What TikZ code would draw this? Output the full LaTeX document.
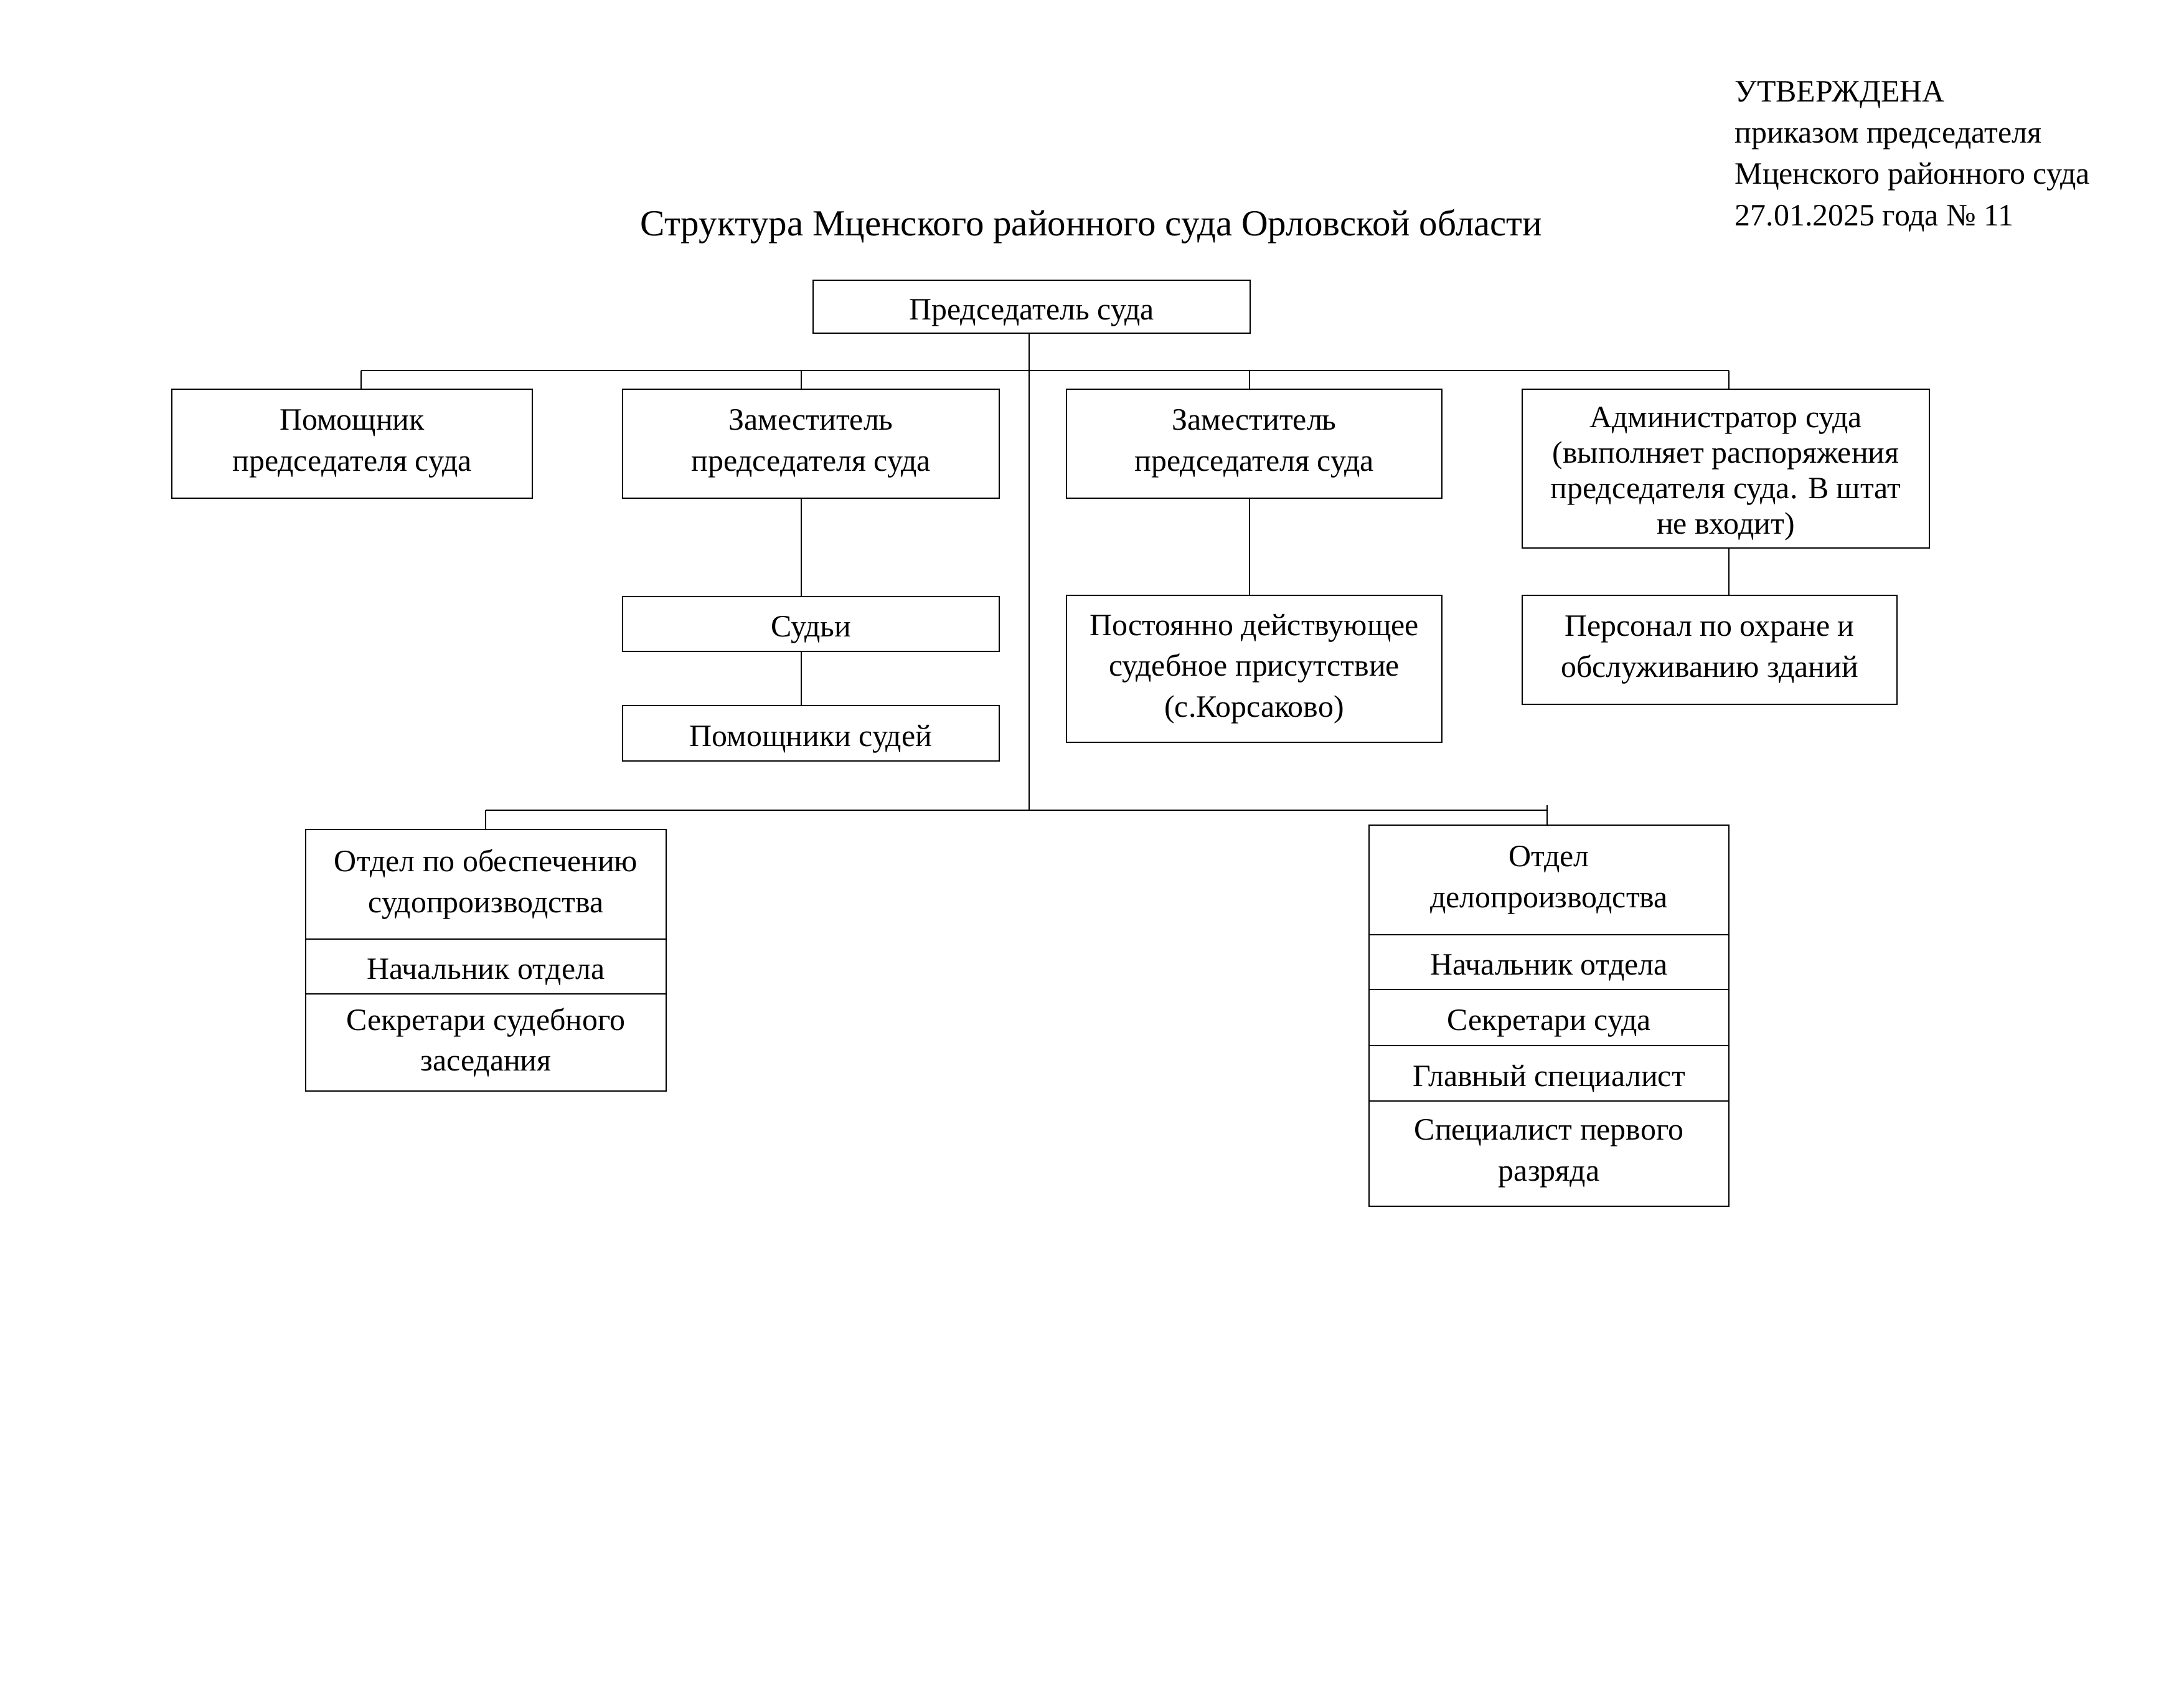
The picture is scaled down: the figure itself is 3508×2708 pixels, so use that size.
\documentclass[tikz,border=0pt]{standalone}
\usepackage{fontspec}
\setmainfont{Liberation Serif}
\begin{document}
\begin{tikzpicture}[x=0.1mm, y=-0.1mm,
  box/.style={draw, line width=0.75pt, inner sep=0pt, align=center,
    font=\fontsize{14.2pt}{18.7pt}\selectfont},
  one/.style={text height=14.9pt, text depth=3.1pt},
  tight/.style={inner sep=0pt, align=center, font=\fontsize{14.2pt}{16.2pt}\selectfont},
  conn/.style={line width=0.55pt},
  bus/.style={line width=0.8pt},
  txt/.style={inner sep=0pt, font=\fontsize{14.2pt}{18.7pt}\selectfont},
  ttl/.style={inner sep=0pt, font=\fontsize{16.8pt}{20pt}\selectfont}]
\useasboundingbox[fill=white] (0,0) rectangle (3508,2708);

% approval stamp
\node[txt, anchor=base west] (ap1) at (2786,163) {УТВЕРЖДЕНА};
\node[txt, anchor=base west] (ap2) at (2786,229) {приказом председателя};
\node[txt, anchor=base west] (ap3) at (2786,295) {Мценского районного суда};
\node[txt, anchor=base west] (ap4) at (2786,362) {27.01.2025 года № 11};

% title
\node[ttl, anchor=base] (title) at (1753,378) {Структура Мценского районного суда Орловской области};

% boxes
\node[box, one, minimum width=70.2mm, minimum height=8.5mm] (ch) at (1657,492.5) {Председатель суда};
\node[box, minimum width=57.9mm, minimum height=17.5mm] (b1) at (565.5,712.5) {Помощник\\председателя суда};
\node[box, minimum width=60.5mm, minimum height=17.5mm] (b2) at (1302.5,712.5) {Заместитель\\председателя суда};
\node[box, minimum width=60.3mm, minimum height=17.5mm] (b3) at (2014.5,712.5) {Заместитель\\председателя суда};
\node[box, minimum width=65.4mm, minimum height=25.5mm] (b4) at (2772,752.5) {};
\node[tight] (b4t) at ([yshift=-0.85mm]b4.center) {Администратор суда\\(выполняет распоряжения\\председателя суда. В штат\\не входит)};
\node[box, one, minimum width=60.5mm, minimum height=8.8mm] (jud) at (1302.5,1002) {Судьи};
\node[box, one, minimum width=60.5mm, minimum height=8.9mm] (pjud) at (1302.5,1177.5) {Помощники судей};
\node[box, minimum width=60.3mm, minimum height=23.6mm] (post) at (2014.5,1074) {Постоянно действующее\\судебное присутствие\\(с.Корсаково)};
\node[box, minimum width=60.2mm, minimum height=17.5mm] (pers) at (2746,1043.5) {Персонал по охране и\\обслуживанию зданий};

\node[box, minimum width=57.9mm, minimum height=17.6mm] (ld1) at (780.5,1420) {Отдел по обеспечению\\судопроизводства};
\node[box, one, minimum width=57.9mm, minimum height=8.8mm] (ld2) at (780.5,1552) {Начальник отдела};
\node[box, minimum width=57.9mm, minimum height=15.6mm] (ld3) at (780.5,1674) {Секретари судебного\\заседания};

\node[box, minimum width=57.8mm, minimum height=17.6mm] (rd1) at (2488,1413) {Отдел\\делопроизводства};
\node[box, one, minimum width=57.8mm, minimum height=8.8mm] (rd2) at (2488,1545) {Начальник отдела};
\node[box, one, minimum width=57.8mm, minimum height=9.0mm] (rd3) at (2488,1634) {Секретари суда};
\node[box, one, minimum width=57.8mm, minimum height=8.9mm] (rd4) at (2488,1723.5) {Главный специалист};
\node[box, minimum width=57.8mm, minimum height=16.9mm] (rd5) at (2488,1852.5) {Специалист первого\\разряда};

% bus coordinates
\coordinate (tA) at (580,595);
\coordinate (tB) at (1287,595);
\coordinate (tC) at (2007,595);
\coordinate (tD) at (2777,595);
\coordinate (lb) at (1653,1301);
\coordinate (lA) at (780,1301);
\coordinate (lB) at (2485,1301);
\coordinate (rt) at (2485,1293);

% connectors
\draw[bus] (tA) -- (tD);
\draw[conn] (ch.south -| lb) -- (lb);
\draw[conn] (tA) -- (tA |- b1.north);
\draw[conn] (tB) -- (tB |- b2.north);
\draw[conn] (tC) -- (tC |- b3.north);
\draw[conn] (tD) -- (tD |- b4.north);
\draw[conn] (b2.south -| tB) -- (tB |- jud.north);
\draw[conn] (jud.south -| tB) -- (tB |- pjud.north);
\draw[conn] (b3.south -| tC) -- (tC |- post.north);
\draw[conn] (b4.south -| tD) -- (tD |- pers.north);
\draw[bus] (lA) -- (lB);
\draw[conn] (lA) -- (lA |- ld1.north);
\draw[conn] (rt) -- (rt |- rd1.north);
\end{tikzpicture}
\end{document}
